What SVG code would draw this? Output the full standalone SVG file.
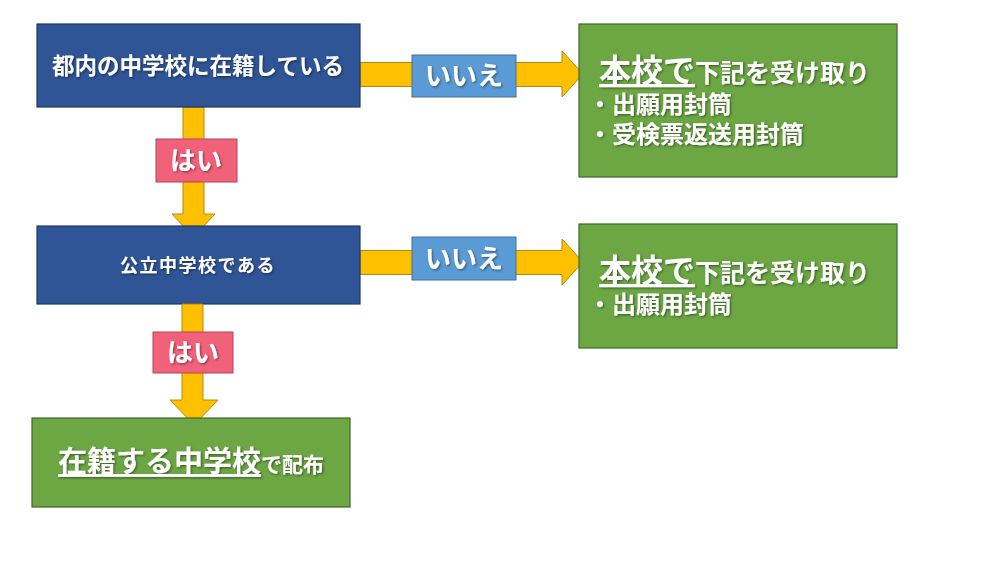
<svg xmlns="http://www.w3.org/2000/svg" width="1000" height="563" viewBox="0 0 1000 563">
<defs>
<filter id="sh" x="-10%" y="-10%" width="130%" height="140%">
<feDropShadow dx="1.2" dy="1.2" stdDeviation="0.8" flood-color="#000" flood-opacity="0.45"/>
</filter>
<style>
.blue{fill:#2F5597;stroke:#1F3864;stroke-width:1.2}
.green{fill:#6CA744;stroke:#44642C;stroke-width:1.2}
.arrow{fill:#FFC000;stroke:#B08A10;stroke-width:1}
.no{fill:#5B9BD5;stroke:#41719C;stroke-width:1}
.yes{fill:#F2617A;stroke:#B0455A;stroke-width:1}
text{font-family:"Noto Sans CJK JP","Noto Sans",sans-serif;fill:#fff;font-weight:bold;filter:url(#sh)}
.c{text-anchor:middle}
</style>
</defs>
<rect width="1000" height="563" fill="#fff"/>
<g id="connectors">
<polygon class="arrow" points="360,62.5 562,62.5 562,51 583,74 562,97 562,86.5 360,86.5"/>
<polygon class="arrow" points="360,250.5 562,250.5 562,239 583,262 562,285 562,274.5 360,274.5"/>
<polygon class="arrow" points="183,107 204,107 204,214 215,214 193.5,237 172,214 183,214"/>
</g>
<g id="n1"><rect class="blue" x="37" y="24" width="323" height="83"/>
<text class="c" x="198" y="74" font-size="22.5">都内の中学校に在籍している</text></g>
<g id="n2"><rect class="blue" x="37" y="226" width="323" height="78"/>
<text class="c" x="198" y="272" font-size="18" letter-spacing="1.5">公立中学校である</text></g>
<g id="connectors2">
<polygon class="arrow" points="182,304 203,304 203,400 218,400 194,425 170,400 182,400"/>
</g>
<g id="n3"><rect class="green" x="32" y="418" width="318" height="89"/>
<text x="58" y="472"><tspan font-size="29" text-decoration="underline">在籍する中学校</tspan><tspan font-size="21">で配布</tspan></text></g>
<g id="n4"><rect class="green" x="579" y="24" width="318" height="153"/>
<text x="599" y="82"><tspan font-size="32" text-decoration="underline">本校で</tspan><tspan font-size="25">下記を受け取り</tspan></text>
<text x="588" y="113" font-size="24">・出願用封筒</text>
<text x="588" y="143" font-size="24">・受検票返送用封筒</text></g>
<g id="n5"><rect class="green" x="579" y="224" width="318" height="124"/>
<text x="599" y="282"><tspan font-size="32" text-decoration="underline">本校で</tspan><tspan font-size="25">下記を受け取り</tspan></text>
<text x="588" y="313" font-size="24">・出願用封筒</text></g>
<g id="l1"><rect class="no" x="412" y="55" width="104" height="42"/>
<text class="c" x="464" y="85" font-size="26">いいえ</text></g>
<g id="l2"><rect class="no" x="412" y="237" width="104" height="43"/>
<text class="c" x="464" y="268" font-size="26">いいえ</text></g>
<g id="l3"><rect class="yes" x="156" y="139" width="81" height="43"/>
<text class="c" x="196" y="170" font-size="26">はい</text></g>
<g id="l4"><rect class="yes" x="153" y="332" width="80" height="41"/>
<text class="c" x="193" y="362" font-size="26">はい</text></g>
</svg>
